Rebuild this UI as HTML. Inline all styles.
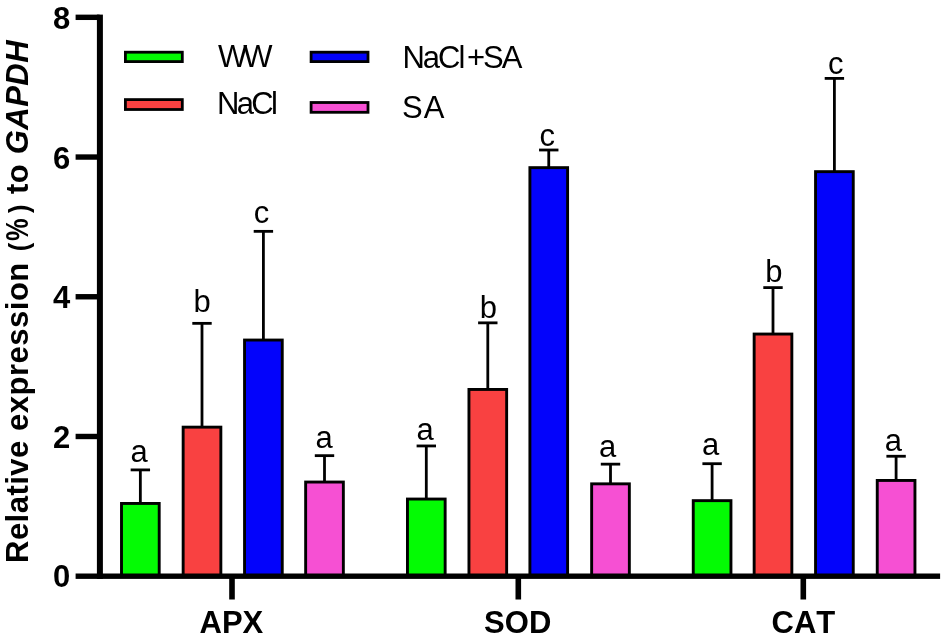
<!DOCTYPE html>
<html><head><meta charset="utf-8"><title>chart</title>
<style>
html,body{margin:0;padding:0;background:#fff;}
body{width:944px;height:639px;overflow:hidden;}
svg{display:block;will-change:transform;}
text{font-family:"Liberation Sans",sans-serif;fill:#000;font-kerning:none;}
.b{font-weight:bold;}
</style></head><body>
<svg width="944" height="639" viewBox="0 0 944 639">
<rect width="944" height="639" fill="#fff"/>

<line x1="140.35" y1="469.90" x2="140.35" y2="504.00" stroke="#000" stroke-width="2.8"/>
<line x1="130.65" y1="469.90" x2="150.05" y2="469.90" stroke="#000" stroke-width="2.8"/>
<rect x="121.50" y="503.45" width="37.70" height="72.75" fill="#04fb04" stroke="#000" stroke-width="2.9"/>
<text x="139.05" y="461.50" font-size="31" text-anchor="middle">a</text>
<line x1="202.00" y1="323.35" x2="202.00" y2="427.70" stroke="#000" stroke-width="2.8"/>
<line x1="192.30" y1="323.35" x2="211.70" y2="323.35" stroke="#000" stroke-width="2.8"/>
<rect x="183.15" y="427.15" width="37.70" height="149.05" fill="#f94141" stroke="#000" stroke-width="2.9"/>
<text x="202.10" y="311.80" font-size="31" text-anchor="middle">b</text>
<line x1="263.40" y1="231.35" x2="263.40" y2="340.60" stroke="#000" stroke-width="2.8"/>
<line x1="253.70" y1="231.35" x2="273.10" y2="231.35" stroke="#000" stroke-width="2.8"/>
<rect x="244.55" y="340.05" width="37.70" height="236.15" fill="#0303fb" stroke="#000" stroke-width="2.9"/>
<text x="261.50" y="222.80" font-size="31" text-anchor="middle">c</text>
<line x1="324.50" y1="455.65" x2="324.50" y2="482.60" stroke="#000" stroke-width="2.8"/>
<line x1="314.80" y1="455.65" x2="334.20" y2="455.65" stroke="#000" stroke-width="2.8"/>
<rect x="305.65" y="482.05" width="37.70" height="94.15" fill="#f650d3" stroke="#000" stroke-width="2.9"/>
<text x="324.15" y="447.80" font-size="31" text-anchor="middle">a</text>
<line x1="426.30" y1="445.95" x2="426.30" y2="499.60" stroke="#000" stroke-width="2.8"/>
<line x1="416.60" y1="445.95" x2="436.00" y2="445.95" stroke="#000" stroke-width="2.8"/>
<rect x="407.45" y="499.05" width="37.70" height="77.15" fill="#04fb04" stroke="#000" stroke-width="2.9"/>
<text x="425.10" y="439.90" font-size="31" text-anchor="middle">a</text>
<line x1="487.80" y1="322.85" x2="487.80" y2="390.00" stroke="#000" stroke-width="2.8"/>
<line x1="478.10" y1="322.85" x2="497.50" y2="322.85" stroke="#000" stroke-width="2.8"/>
<rect x="468.95" y="389.45" width="37.70" height="186.75" fill="#f94141" stroke="#000" stroke-width="2.9"/>
<text x="488.40" y="317.50" font-size="31" text-anchor="middle">b</text>
<line x1="548.75" y1="150.00" x2="548.75" y2="168.20" stroke="#000" stroke-width="2.8"/>
<line x1="539.05" y1="150.00" x2="558.45" y2="150.00" stroke="#000" stroke-width="2.8"/>
<rect x="529.90" y="167.65" width="37.70" height="408.55" fill="#0303fb" stroke="#000" stroke-width="2.9"/>
<text x="547.20" y="146.30" font-size="31" text-anchor="middle">c</text>
<line x1="610.50" y1="464.15" x2="610.50" y2="484.40" stroke="#000" stroke-width="2.8"/>
<line x1="600.80" y1="464.15" x2="620.20" y2="464.15" stroke="#000" stroke-width="2.8"/>
<rect x="591.65" y="483.85" width="37.70" height="92.35" fill="#f650d3" stroke="#000" stroke-width="2.9"/>
<text x="607.55" y="456.80" font-size="31" text-anchor="middle">a</text>
<line x1="712.10" y1="463.70" x2="712.10" y2="501.20" stroke="#000" stroke-width="2.8"/>
<line x1="702.40" y1="463.70" x2="721.80" y2="463.70" stroke="#000" stroke-width="2.8"/>
<rect x="693.25" y="500.65" width="37.70" height="75.55" fill="#04fb04" stroke="#000" stroke-width="2.9"/>
<text x="710.65" y="454.80" font-size="31" text-anchor="middle">a</text>
<line x1="773.00" y1="287.60" x2="773.00" y2="334.60" stroke="#000" stroke-width="2.8"/>
<line x1="763.30" y1="287.60" x2="782.70" y2="287.60" stroke="#000" stroke-width="2.8"/>
<rect x="754.15" y="334.05" width="37.70" height="242.15" fill="#f94141" stroke="#000" stroke-width="2.9"/>
<text x="773.90" y="282.20" font-size="31" text-anchor="middle">b</text>
<line x1="834.40" y1="78.40" x2="834.40" y2="172.20" stroke="#000" stroke-width="2.8"/>
<line x1="824.70" y1="78.40" x2="844.10" y2="78.40" stroke="#000" stroke-width="2.8"/>
<rect x="815.55" y="171.65" width="37.70" height="404.55" fill="#0303fb" stroke="#000" stroke-width="2.9"/>
<text x="835.80" y="74.20" font-size="31" text-anchor="middle">c</text>
<line x1="896.10" y1="456.25" x2="896.10" y2="481.00" stroke="#000" stroke-width="2.8"/>
<line x1="886.40" y1="456.25" x2="905.80" y2="456.25" stroke="#000" stroke-width="2.8"/>
<rect x="877.25" y="480.45" width="37.70" height="95.75" fill="#f650d3" stroke="#000" stroke-width="2.9"/>
<text x="893.45" y="450.50" font-size="31" text-anchor="middle">a</text>
<rect x="75.6" y="573.5" width="864.5" height="5.4" fill="#000"/>
<rect x="96.9" y="14.6" width="6" height="564.3" fill="#000"/>
<rect x="75.6" y="433.78" width="24" height="5.4" fill="#000"/>
<rect x="75.6" y="294.06" width="24" height="5.4" fill="#000"/>
<rect x="75.6" y="154.34" width="24" height="5.4" fill="#000"/>
<rect x="75.6" y="14.62" width="24" height="5.4" fill="#000"/>
<text class="b" x="70.3" y="587.30" font-size="31" text-anchor="end">0</text>
<text class="b" x="70.3" y="447.76" font-size="31" text-anchor="end">2</text>
<text class="b" x="70.3" y="308.22" font-size="31" text-anchor="end">4</text>
<text class="b" x="70.3" y="168.68" font-size="31" text-anchor="end">6</text>
<text class="b" x="70.3" y="29.14" font-size="31" text-anchor="end">8</text>
<rect x="229.20" y="576" width="5.6" height="23.5" fill="#000"/>
<text class="b" x="231.40" y="633.3" font-size="31" text-anchor="middle">APX</text>
<rect x="515.50" y="576" width="5.6" height="23.5" fill="#000"/>
<text class="b" x="517.70" y="633.3" font-size="31" text-anchor="middle">SOD</text>
<rect x="800.50" y="576" width="5.6" height="23.5" fill="#000"/>
<text class="b" x="803.40" y="633.3" font-size="31" text-anchor="middle">CAT</text>
<g transform="translate(28,563.5) rotate(-90)" class="b" font-size="31">
<text x="0.6" y="0" letter-spacing="0.45">Relative</text>
<text x="132.6" y="0" letter-spacing="0.5">expression</text>
<text x="369.4" y="0" letter-spacing="0.5">to</text>
<text x="409.2" y="0" letter-spacing="0.5" font-style="italic">GAPDH</text>
<text transform="translate(312.3,0) scale(0.82,0.9)" x="0" y="0">(</text>
<text transform="translate(322.5,0) scale(0.82,1)" x="0" y="0">%</text>
<text transform="translate(350.4,0) scale(0.82,0.9)" x="0" y="0">)</text>
</g>
<rect x="125.40" y="52.20" width="56.90" height="9.40" fill="#04fb04" stroke="#000" stroke-width="2.8"/>
<rect x="125.40" y="99.60" width="56.90" height="9.90" fill="#f94141" stroke="#000" stroke-width="2.8"/>
<rect x="311.10" y="52.20" width="56.90" height="9.40" fill="#0303fb" stroke="#000" stroke-width="2.8"/>
<rect x="311.10" y="102.50" width="56.90" height="9.80" fill="#f650d3" stroke="#000" stroke-width="2.8"/>
<text x="218.0" y="67.0" font-size="31" letter-spacing="-4">WW</text>
<text x="217.0" y="114.4" font-size="31" letter-spacing="-2.7">NaCl</text>
<text x="402.4" y="67.6" font-size="31" letter-spacing="-2">NaCl<tspan dx="3.7">+SA</tspan></text>
<text x="401.9" y="117.5" font-size="31" letter-spacing="1.1">SA</text>
</svg></body></html>
